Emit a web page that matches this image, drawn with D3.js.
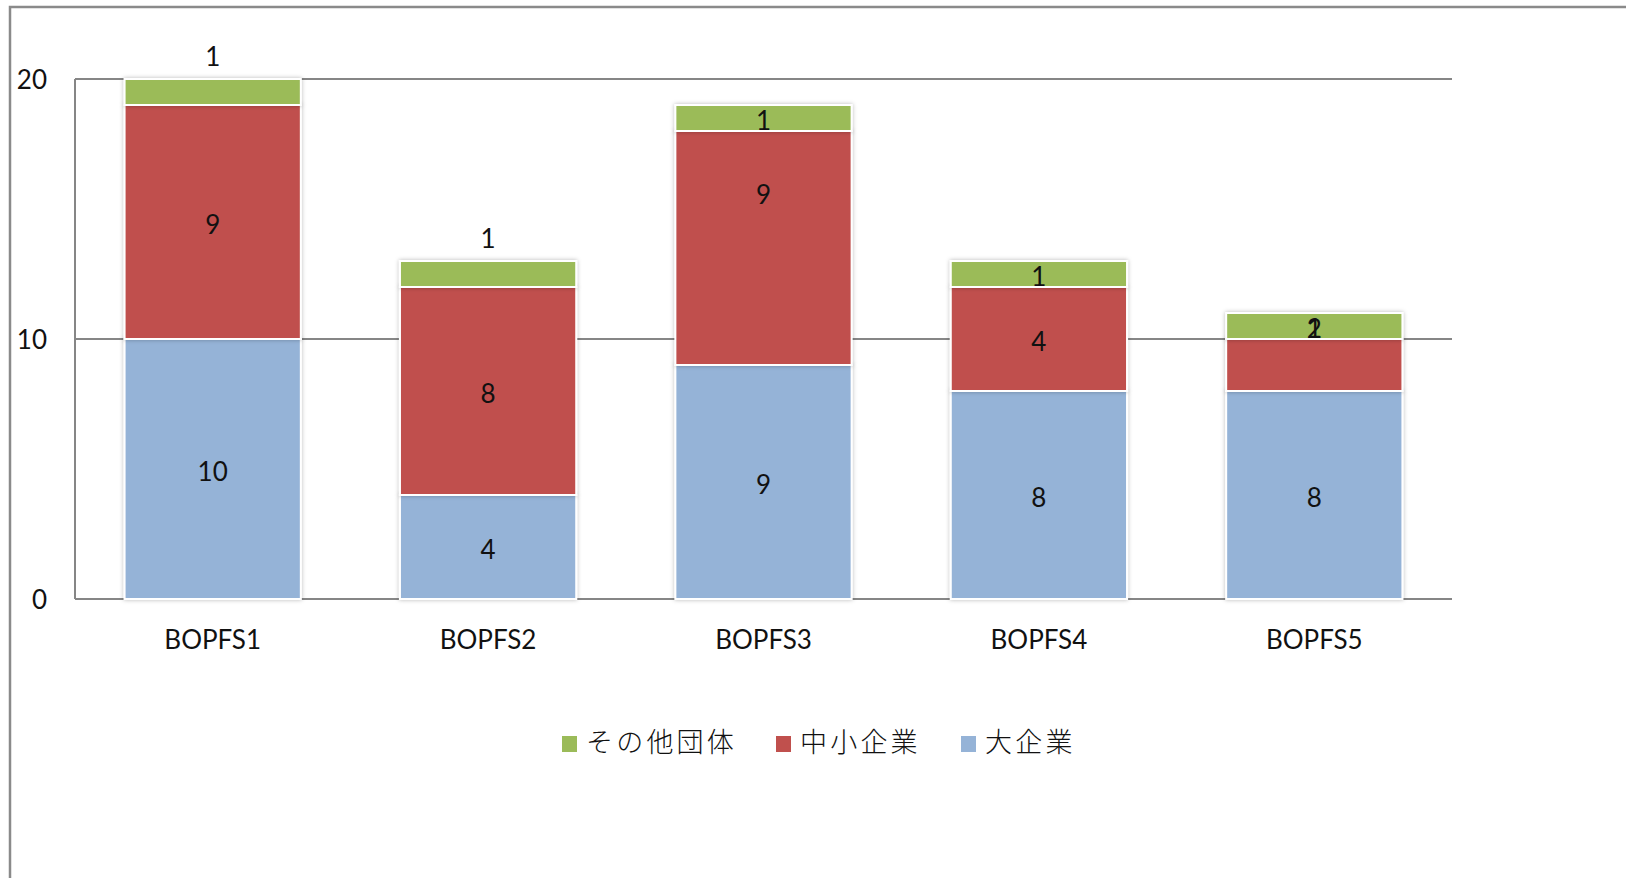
<!DOCTYPE html>
<html><head><meta charset="utf-8">
<script src="https://cdn.jsdelivr.net/npm/d3@7"></script>
<style>
html,body{margin:0;padding:0;background:#fff;overflow:hidden}
svg{display:block}
</style></head>
<body>
<script>
const categories = ["BOPFS1","BOPFS2","BOPFS3","BOPFS4","BOPFS5"];
const seriesNames = ["大企業","中小企業","その他団体"];
const large = [10, 4, 9, 8, 8];
const sme = [9, 8, 9, 4, 2];
const other = [1, 1, 1, 1, 1];
const yTicks = [0, 10, 20];
const legendOrder = ["その他団体","中小企業","大企業"];
const colors = {"大企業":"#95B3D7","中小企業":"#C0504D","その他団体":"#9BBB59"};

const W = 1626, H = 878;
const margin = {left:75, right:W-1452, top:79, bottom:H-599};
const svg = d3.select("body").append("svg").attr("width",W).attr("height",H);

const defs = svg.append("defs");
const f = defs.append("filter").attr("id","sh").attr("x","-10%").attr("y","-10%").attr("width","120%").attr("height","120%");
f.append("feDropShadow").attr("dx",0).attr("dy",0).attr("stdDeviation",2.2).attr("flood-color","#000").attr("flood-opacity",0.28);

// outer frame
svg.append("rect").attr("x",10).attr("y",7).attr("width",W+40).attr("height",H+40)
  .attr("fill","none").attr("stroke","#8a8a8a").attr("stroke-width",2.5);

const x = d3.scaleBand().domain(categories).range([margin.left, W-margin.right]).paddingInner(0.36).paddingOuter(0.18);
const y = d3.scaleLinear().domain([0,20]).range([H-margin.bottom, margin.top]);

const font = "Lato, 'Noto Sans', sans-serif";

// gridlines
svg.append("g").selectAll("line").data(yTicks).join("line")
  .attr("x1",margin.left).attr("x2",W-margin.right)
  .attr("y1",d=>y(d)).attr("y2",d=>y(d))
  .attr("stroke","#868686").attr("stroke-width",1.2).attr("shape-rendering","crispEdges");
svg.append("line").attr("x1",margin.left).attr("x2",margin.left)
  .attr("y1",y(20)).attr("y2",y(0)).attr("stroke","#868686").attr("stroke-width",1.2).attr("shape-rendering","crispEdges");

// y labels
svg.append("g").selectAll("text").data(yTicks).join("text")
  .attr("x",47).attr("y",d=>y(d)+1).attr("dy","0.35em").attr("text-anchor","end")
  .attr("font-family",font).attr("font-size",26).attr("fill","#111").text(d=>d);

// stacked data
const table = categories.map((c,i)=>({cat:c, "大企業":large[i], "中小企業":sme[i], "その他団体":other[i]}));
const stack = d3.stack().keys(seriesNames)(table);

const gBars = svg.append("g");
stack.forEach(layer=>{
  gBars.append("g").attr("filter","url(#sh)").selectAll("rect").data(layer).join("rect")
    .attr("x",d=>x(d.data.cat)).attr("width",x.bandwidth())
    .attr("y",d=>y(d[1])).attr("height",d=>y(d[0])-y(d[1]))
    .attr("fill",colors[layer.key]).attr("stroke","#fff").attr("stroke-width",2);
});

// data labels (label placement as in the original chart)
const labelShift = {"中小企業|BOPFS3": 2.15}; // value-units shift of a manually moved label
const gLab = svg.append("g").attr("font-family",font).attr("font-size",26).attr("fill","#111").attr("text-anchor","middle");
stack.forEach(layer=>{
  layer.forEach((d,i)=>{
    const cx = x(d.data.cat)+x.bandwidth()/2;
    let mid = (d[0]+d[1])/2 + (labelShift[layer.key+"|"+d.data.cat]||0);
    let cy = y(mid) + 2.5;
    const segH = y(d[0])-y(d[1]);
    if (layer.key==="その他団体" && (i===0 || i===1)) {
      cy = y(d[1]) - 22; // outside end
    }
    if (layer.key==="中小企業" && segH < 60) {
      const top = stack[2][i];
      cy = y((top[0]+top[1])/2) + 2.5;
    }
    gLab.append("text").attr("x",cx).attr("y",cy).attr("dy","0.36em").text(d[1]-d[0]);
  });
});

// x labels
svg.append("g").selectAll("text").data(categories).join("text")
  .attr("x",d=>x(d)+x.bandwidth()/2).attr("y",649).attr("text-anchor","middle")
  .attr("font-family",font).attr("font-size",26).attr("fill","#111").text(d=>d);

// legend
const legX = [562, 776, 961];
const lg = svg.append("g");
legendOrder.forEach((k,i)=>{
  lg.append("rect").attr("x",legX[i]).attr("y",736).attr("width",15).attr("height",16).attr("fill",colors[k]);
  lg.append("text").attr("x",legX[i]+24).attr("y",742).attr("dy","0.36em")
    .attr("font-family","'Noto Sans CJK JP', sans-serif").attr("font-size",27).attr("letter-spacing",3.2)
    .attr("font-weight",300).attr("fill","#111").text(k);
});
</script>
</body></html>
